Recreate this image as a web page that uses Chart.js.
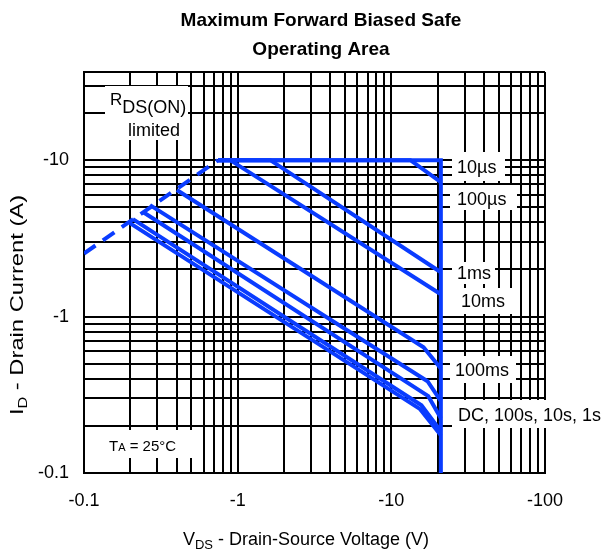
<!DOCTYPE html>
<html>
<head>
<meta charset="utf-8">
<title>Maximum Forward Biased Safe Operating Area</title>
<script src="https://cdn.jsdelivr.net/npm/chart.js@4.4.1/dist/chart.umd.min.js"></script>
<style>
  html, body { margin: 0; padding: 0; background: #fff; }
  #box { width: 610px; height: 551px; }
</style>
</head>
<body>
<div id="box"><canvas id="soa" width="610" height="551"></canvas></div>
<script>
// tick labels (the part is P-channel, so the axes show negative values)
var xTickValues = [0.1, 1, 10, 100];
var xTickLabels = ['-0.1', '-1', '-10', '-100'];
var yTickValues = [0.1, 1, 10];
var yTickLabels = ['-0.1', '-1', '-10'];
var xMin = 0.1, xMax = 100;
var yMin = 0.1, yMax = 36.6;

// curves: |VDS| in volts, |ID| in amps
var rdsV = [0.1, 0.746];
var rdsI = [2.53, 10];
var v10us = [0.746, 21, 21];
var i10us = [10, 10, 0.1];
var v100us = [0.746, 13.3, 21];
var i100us = [10, 10, 7.24];
var v1ms = [0.746, 1.63, 21];
var i1ms = [10, 10, 1.92];
var v10ms = [0.746, 0.894, 21];
var i10ms = [10, 10, 1.39];
var v100ms = [0.402, 16.2, 21];
var i100ms = [6.44, 0.637, 0.466];
var v1s = [0.269, 17.2, 21];
var i1s = [5.16, 0.386, 0.288];
var v10s = [0.242, 17.4, 21];
var i10s = [4.66, 0.31, 0.224];
var v100s = [0.208, 15.7, 21];
var i100s = [4.2, 0.271, 0.185];
var vDC = [0.199, 15.4, 21];
var iDC = [3.96, 0.256, 0.174];

var FONT = '"Liberation Sans", Arial, Helvetica, sans-serif';
var BLUE = '#0a3cff';

Chart.defaults.font.family = FONT;
Chart.defaults.color = '#000';

function pontos(vs, is) {
    var out = [];
    for (var k = 0; k < vs.length; k++) {
        out.push({x: vs[k], y: is[k]});
    }
    return out;
}

function curva(vs, is, dashed) {
    return {
        data: pontos(vs, is),
        showLine: true,
        borderColor: BLUE,
        backgroundColor: BLUE,
        borderWidth: 4,
        borderDash: dashed ? [14, 9] : [],
        pointRadius: 0,
        fill: false,
        tension: 0
    };
}

// grid lines at 1..9 of every decade, plus the top edge
function gridValues(decades, top) {
    var vals = [];
    decades.forEach(function(d) {
        for (var m = 1; m <= 9; m++) {
            if (d * m < top - 1e-9) vals.push(d * m);
        }
    });
    vals.push(top);
    return vals.map(function(v) { return {value: v}; });
}

function labelFor(value, vals, texts) {
    for (var k = 0; k < vals.length; k++) {
        if (Math.abs(value - vals[k]) < vals[k] * 1e-6) return texts[k];
    }
    return '';
}

// draw text made of pieces (for subscripts)
function drawParts(ctx, x, y, parts, align) {
    var total = 0;
    parts.forEach(function(p) {
        ctx.font = (p.bold ? 'bold ' : '') + p.size + 'px ' + FONT;
        total += ctx.measureText(p.t).width;
    });
    var cx = align === 'center' ? x - total / 2 : x;
    parts.forEach(function(p) {
        ctx.font = (p.bold ? 'bold ' : '') + p.size + 'px ' + FONT;
        ctx.fillText(p.t, cx, y + (p.dy || 0));
        cx += ctx.measureText(p.t).width;
    });
}

var notes = [
    {box: [452, 152, 505, 181], x: 457, y: 173, parts: [{t: '10\u00b5s', size: 18}]},
    {box: [450, 185, 517, 210], x: 457, y: 205, parts: [{t: '100\u00b5s', size: 18}]},
    {box: [452, 262, 495, 284], x: 457, y: 279, parts: [{t: '1ms', size: 18}]},
    {box: [455, 288, 517, 314], x: 461, y: 307, parts: [{t: '10ms', size: 18}]},
    {box: [450, 356, 516, 383], x: 455, y: 376, parts: [{t: '100ms', size: 18}]},
    {box: [452, 400, 610, 428], x: 458, y: 421, parts: [{t: 'DC, 100s, 10s, 1s', size: 18}]},
    {box: [105, 86, 188, 140], x: 110, y: 105, parts: [{t: 'R', size: 17}, {t: 'DS(ON)', size: 18, dy: 8}]},
    {box: null, x: 128, y: 136, parts: [{t: 'limited', size: 18}]},
    {box: [95, 430, 193, 458], x: 109, y: 451, parts: [{t: 'T', size: 15}, {t: 'A', size: 11}, {t: ' = 25\u00b0C', size: 15}]}
];

var textPlugin = {
    id: 'textPlugin',
    afterDatasetsDraw: function(chart) {
        var ctx = chart.ctx;
        ctx.save();
        ctx.textAlign = 'left';
        ctx.textBaseline = 'alphabetic';
        notes.forEach(function(n) {
            if (n.box) {
                ctx.fillStyle = '#fff';
                ctx.fillRect(n.box[0], n.box[1], n.box[2] - n.box[0], n.box[3] - n.box[1]);
            }
        });
        ctx.fillStyle = '#000';
        notes.forEach(function(n) {
            drawParts(ctx, n.x, n.y, n.parts, 'left');
        });
        ctx.restore();
    },
    afterDraw: function(chart) {
        var ctx = chart.ctx;
        ctx.save();
        ctx.fillStyle = '#000';
        ctx.textAlign = 'left';
        ctx.textBaseline = 'alphabetic';
        // title
        drawParts(ctx, 321, 26, [{t: 'Maximum Forward Biased Safe', size: 19, bold: true}], 'center');
        drawParts(ctx, 321, 55, [{t: 'Operating Area', size: 19, bold: true}], 'center');
        // x axis title
        drawParts(ctx, 306, 545, [{t: 'V', size: 18}, {t: 'DS', size: 13, dy: 4}, {t: ' - Drain-Source Voltage (V)', size: 18}], 'center');
        // y axis title, a bit stretched along its length like the original
        ctx.translate(23, 305);
        ctx.rotate(-Math.PI / 2);
        ctx.scale(1.25, 1);
        drawParts(ctx, 0, 0, [{t: 'I', size: 19}, {t: 'D', size: 13, dy: 4}, {t: ' - Drain Current (A)', size: 19}], 'center');
        ctx.restore();
    }
};

var ctx = document.getElementById('soa');
var soaChart = new Chart(ctx, {
    type: 'scatter',
    data: {
        datasets: [
            curva(rdsV, rdsI, true),
            curva(v10us, i10us),
            curva(v100us, i100us),
            curva(v1ms, i1ms),
            curva(v10ms, i10ms),
            curva(v100ms, i100ms),
            curva(v1s, i1s),
            curva(v10s, i10s),
            curva(v100s, i100s),
            curva(vDC, iDC)
        ]
    },
    options: {
        responsive: false,
        animation: false,
        devicePixelRatio: 1,
        layout: { padding: { top: 72, right: 65, left: 0, bottom: 0 } },
        plugins: {
            legend: { display: false },
            tooltip: { enabled: false },
            title: { display: false }
        },
        scales: {
            x: {
                type: 'logarithmic',
                min: xMin,
                max: xMax,
                grid: { color: '#000', lineWidth: 2, drawTicks: false },
                border: { color: '#000', width: 2 },
                afterBuildTicks: function(scale) {
                    scale.ticks = gridValues([0.1, 1, 10], xMax);
                },
                afterFit: function(scale) { scale.height = 78; },
                ticks: {
                    autoSkip: false,
                    maxRotation: 0,
                    padding: 17,
                    color: '#000',
                    font: { size: 18 },
                    callback: function(value) { return labelFor(value, xTickValues, xTickLabels); }
                }
            },
            y: {
                type: 'logarithmic',
                min: yMin,
                max: yMax,
                grid: { color: '#000', lineWidth: 2, drawTicks: false },
                border: { color: '#000', width: 2 },
                afterBuildTicks: function(scale) {
                    scale.ticks = gridValues([0.1, 1, 10], yMax);
                },
                afterFit: function(scale) { scale.width = 84; },
                ticks: {
                    autoSkip: false,
                    padding: 15,
                    color: '#000',
                    font: { size: 18 },
                    callback: function(value) { return labelFor(value, yTickValues, yTickLabels); }
                }
            }
        }
    },
    plugins: [textPlugin]
});
</script>
</body>
</html>
